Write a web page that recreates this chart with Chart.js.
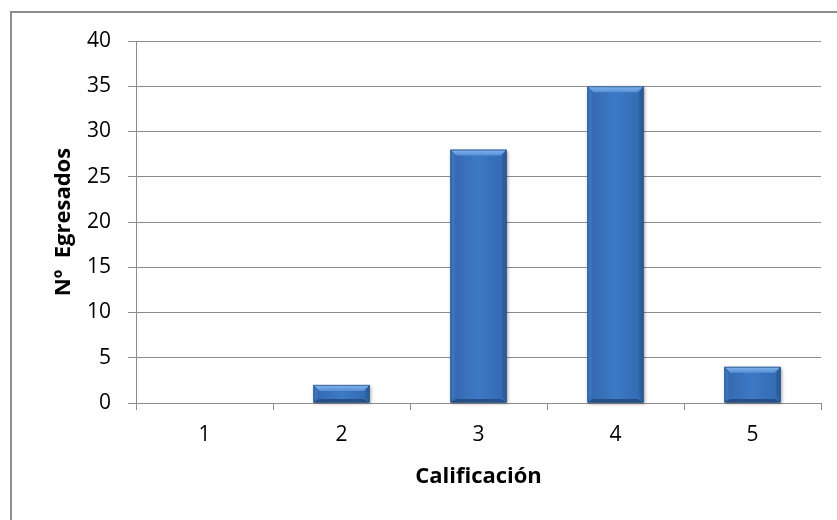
<!DOCTYPE html>
<html>
<head>
<meta charset="utf-8">
<script src="https://cdn.jsdelivr.net/npm/chart.js@4.4.1/dist/chart.umd.min.js"></script>
<style>
  html, body { margin: 0; padding: 0; background: #fff; overflow: hidden; }
  #wrap { position: relative; width: 837px; height: 520px; }
  #frame { position: absolute; left: 10px; top: 11px; width: 900px; height: 600px; border: 2px solid #8e8e8e; box-sizing: border-box; }
  canvas { position: absolute; left: 0; top: 0; }
</style>
</head>
<body>
<div id="wrap">
  <div id="frame"></div>
  <canvas id="chart" width="837" height="520"></canvas>
</div>
<script>
  "use strict";

  // data
  const categories = ["1", "2", "3", "4", "5"];
  const egresados = [0, 2, 28, 35, 4];
  const yTicks = [0, 5, 10, 15, 20, 25, 30, 35, 40];

  const FONT = "'Open Sans', 'Liberation Sans', sans-serif";
  const gridColor = "#8c8c8c";

  // Excel-like bevel drawn on top of each bar the library laid out
  const bevel = {
    id: "bevel",
    afterDatasetsDraw(chart) {
      const { ctx } = chart;
      const meta = chart.getDatasetMeta(0);
      meta.data.forEach((bar) => {
        const { x, y, base, width } = bar.getProps(["x", "y", "base", "width"], true);
        const l = x - width / 2, r = x + width / 2, t = Math.min(y, base), b = Math.max(y, base);
        if (b - t < 1) return;
        const bv = Math.min(6, (b - t) / 2);
        ctx.save();

        // face
        const face = ctx.createLinearGradient(l, 0, r, 0);
        face.addColorStop(0, "#3467ad");
        face.addColorStop(0.5, "#3d79c6");
        face.addColorStop(1, "#3269b0");
        ctx.shadowColor = "rgba(0,0,0,0.35)";
        ctx.shadowBlur = 3;
        ctx.shadowOffsetX = 1;
        ctx.shadowOffsetY = 1;
        ctx.fillStyle = face;
        ctx.fillRect(l, t, r - l, b - t);
        ctx.shadowColor = "transparent";

        // top facet
        const top = ctx.createLinearGradient(0, t, 0, t + bv);
        top.addColorStop(0, "#86b5ea");
        top.addColorStop(1, "#5590d8");
        ctx.fillStyle = top;
        ctx.beginPath();
        ctx.moveTo(l, t); ctx.lineTo(r, t); ctx.lineTo(r - bv, t + bv); ctx.lineTo(l + bv, t + bv); ctx.closePath();
        ctx.fill();

        // left facet
        ctx.fillStyle = "#3b75c0";
        ctx.beginPath();
        ctx.moveTo(l, t); ctx.lineTo(l + bv * 0.7, t + bv); ctx.lineTo(l + bv * 0.7, b - bv); ctx.lineTo(l, b); ctx.closePath();
        ctx.fill();

        // right facet
        ctx.fillStyle = "#2d5d9b";
        ctx.beginPath();
        ctx.moveTo(r, t); ctx.lineTo(r - bv * 0.7, t + bv); ctx.lineTo(r - bv * 0.7, b - bv); ctx.lineTo(r, b); ctx.closePath();
        ctx.fill();

        // bottom facet
        ctx.fillStyle = "#274f86";
        ctx.beginPath();
        ctx.moveTo(l, b); ctx.lineTo(l + bv, b - bv * 0.6); ctx.lineTo(r - bv, b - bv * 0.6); ctx.lineTo(r, b); ctx.closePath();
        ctx.fill();

        ctx.strokeStyle = "rgba(35,75,130,0.7)";
        ctx.lineWidth = 1;
        ctx.strokeRect(l + 0.5, t + 0.5, r - l - 1, b - t - 1);
        ctx.restore();
      });
    },
  };

  new Chart(document.getElementById("chart"), {
    type: "bar",
    data: {
      labels: categories,
      datasets: [{ label: "Nº Egresados", data: egresados, backgroundColor: "rgba(0,0,0,0)", borderWidth: 0, categoryPercentage: 1, barPercentage: 0.41 }],
    },
    options: {
      responsive: false, animation: false, devicePixelRatio: 1,
      layout: { padding: { top: 41, right: 16, bottom: 0, left: 0 } },
      plugins: { legend: { display: false }, tooltip: { enabled: false } },
      scales: {
        x: {
          offset: true,
          grid: { offset: true, drawOnChartArea: false, color: gridColor, tickLength: 7, lineWidth: 1 },
          border: { color: gridColor, width: 1 },
          ticks: { color: "#000", font: { family: FONT, size: 21 }, padding: 12 },
          title: { display: true, text: "Calificación", color: "#000", font: { family: FONT, size: 22, weight: "bold" }, padding: { top: 0, bottom: 30 } },
          afterFit(scale) { scale.height = 117; },
        },
        y: {
          min: 0, max: 40,
          afterBuildTicks(scale) { scale.ticks = yTicks.map((v) => ({ value: v })); },
          grid: { color: gridColor, tickLength: 8, lineWidth: 1 },
          border: { color: gridColor, width: 1 },
          ticks: { color: "#000", font: { family: FONT, size: 21 }, padding: 17 },
          title: { display: true, text: "Nº  Egresados", color: "#000", font: { family: FONT, size: 22, weight: "bold" }, padding: { top: 51, bottom: 0 } },
          afterFit(scale) { scale.width = 136; },
        },
      },
    },
    plugins: [bevel],
  });
</script>
</body>
</html>
